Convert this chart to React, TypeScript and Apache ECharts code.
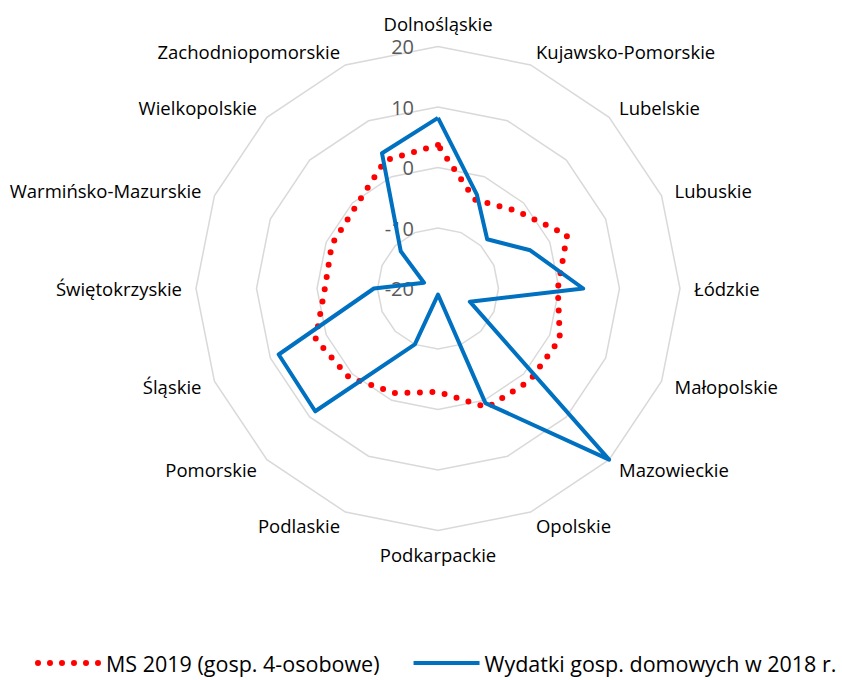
import React, { useEffect, useRef } from "react";
import * as echarts from "echarts";

const categories = [
  "Dolnośląskie",
  "Kujawsko-Pomorskie",
  "Lubelskie",
  "Lubuskie",
  "Łódzkie",
  "Małopolskie",
  "Mazowieckie",
  "Opolskie",
  "Podkarpackie",
  "Podlaskie",
  "Pomorskie",
  "Śląskie",
  "Świętokrzyskie",
  "Warmińsko-Mazurskie",
  "Wielkopolskie",
  "Zachodniopomorskie",
];

const msValues = [3.7, -4.1, -1.8, 3.1, -0.2, 1.8, 1.5, 1.3, -2.9, -1.3, 0.8, 1.9, -1.3, -1.0, -0.8, 2.9];
const wydatkiValues = [8.2, -3.2, -8.5, -3.5, 4.0, -14.3, 20.0, 0.5, -19.0, -10.0, 8.7, 8.5, -9.4, -17.5, -11.3, 4.2];

const seriesNames = ["MS 2019 (gosp. 4-osobowe)", "Wydatki gosp. domowych w 2018 r."];
const axisMin = -20;
const axisMax = 20;

export default function App() {
  const ref = useRef<HTMLDivElement>(null);
  useEffect(() => {
    const chart = echarts.init(ref.current!, null, { renderer: "svg" });
    const font = "Open Sans";
    const n = categories.length;
    // ECharts lays indicators counter-clockwise; reorder so they run clockwise from the top.
    const order = [0];
    for (let i = n - 1; i >= 1; i--) order.push(i);
    const pick = (arr: any[]) => order.map((i) => arr[i]);

    const dotsIcon =
      "path://" +
      [3, 15, 27, 39, 51, 63].map((cx) => `M${cx - 3} 3a3 3 0 1 0 6 0a3 3 0 1 0 -6 0Z`).join("");
    const lineIcon = "path://M0 1L66 1L66 5L0 5Z";

    chart.setOption({
      animation: false,
      backgroundColor: "#ffffff",
      legend: {
        top: 652,
        left: 35,
        width: 807,
        padding: 0,
        itemWidth: 66,
        itemHeight: 6,
        itemGap: 34,
        textStyle: { fontFamily: font, fontSize: 21.5, color: "#000000" },
        data: [
          { name: seriesNames[0], icon: dotsIcon },
          { name: seriesNames[1], icon: lineIcon },
        ],
      },
      radar: {
        center: [438, 288.5],
        radius: 242,
        shape: "polygon",
        splitNumber: 4,
        startAngle: 90,
        nameGap: 14,
        indicator: pick(categories).map((name, i) => ({
          name,
          min: axisMin,
          max: axisMax,
          axisLabel: { show: i === 0 },
        })),
        axisName: { color: "#000000", fontFamily: font, fontSize: 18.5 },
        axisLine: { show: false },
        axisTick: { show: false },
        axisLabel: { show: false, color: "#595959", fontSize: 20, fontFamily: font, margin: 24 },
        splitLine: { lineStyle: { color: "#d9d9d9", width: 1.5 } },
        splitArea: { show: false },
      },
      series: [
        {
          type: "radar",
          symbol: "none",
          data: [
            {
              name: seriesNames[0],
              value: pick(msValues),
              itemStyle: { color: "#ff0000" },
              lineStyle: { color: "#ff0000", width: 6, type: [0, 12.5], cap: "round" },
            },
            {
              name: seriesNames[1],
              value: pick(wydatkiValues),
              itemStyle: { color: "#0070c0" },
              lineStyle: { color: "#0070c0", width: 4, type: "solid" },
            },
          ],
        },
      ],
    });
    return () => chart.dispose();
  }, []);
  return (
    <div
      ref={ref}
      style={{ position: "fixed", left: 0, top: 0, width: 842, height: 680, background: "#fff" }}
    />
  );
}
